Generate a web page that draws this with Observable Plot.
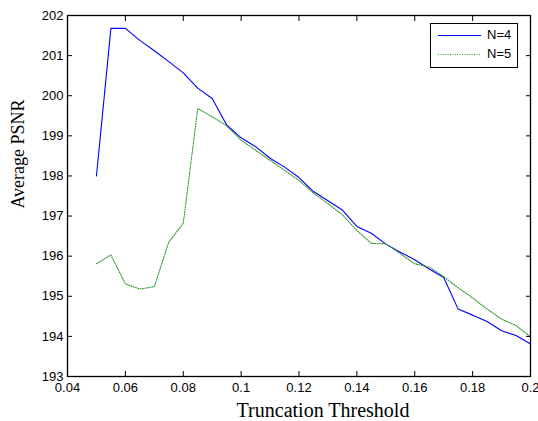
<!DOCTYPE html>
<html>
<head>
<meta charset="utf-8">
<script src="https://cdn.jsdelivr.net/npm/d3@7"></script>
<script src="https://cdn.jsdelivr.net/npm/@observablehq/plot@0.6"></script>
<style>
  body { margin: 0; background: #fff; }
  #wrap { position: relative; width: 538px; height: 421px; }
  #legend { position: absolute; left: 430px; top: 23px; width: 86px; height: 43px;
    border: 1.5px solid #000; background: #fff; font-family: "Liberation Sans", Arial, sans-serif; font-size: 13px; }
  .item { position: absolute; left: 0; height: 16px; width: 86px; }
  .item svg { position: absolute; left: 7px; top: 0; }
  .item span { position: absolute; left: 56px; top: 0; line-height: 16px; }
</style>
</head>
<body>
<div id="wrap"></div>
<script>
const thresholds = [0.05, 0.055, 0.06, 0.065, 0.07, 0.075, 0.08, 0.085, 0.09, 0.095, 0.1,
  0.105, 0.11, 0.115, 0.12, 0.125, 0.13, 0.135, 0.14, 0.145, 0.15, 0.155, 0.16, 0.165,
  0.17, 0.175, 0.18, 0.185, 0.19, 0.195, 0.2];
const psnrN4 = [198.0, 201.68, 201.68, 201.38, 201.12, 200.85, 200.57, 200.19, 199.93, 199.27,
  198.95, 198.73, 198.44, 198.22, 197.96, 197.61, 197.38, 197.15, 196.74, 196.57, 196.3,
  196.1, 195.91, 195.68, 195.47, 194.68, 194.53, 194.37, 194.14, 194.02, 193.81];
const psnrN5 = [195.81, 196.03, 195.31, 195.18, 195.24, 196.35, 196.82, 199.68, 199.48, 199.25,
  198.89, 198.64, 198.39, 198.14, 197.89, 197.57, 197.31, 197.03, 196.64, 196.32, 196.31,
  196.06, 195.81, 195.73, 195.49, 195.21, 194.96, 194.68, 194.43, 194.27, 193.99];
const seriesNames = ["N=4", "N=5"];
const xTicks = [0.04, 0.06, 0.08, 0.1, 0.12, 0.14, 0.16, 0.18, 0.2];
const xTickLabels = ["0.04", "0.06", "0.08", "0.1", "0.12", "0.14", "0.16", "0.18", "0.2"];
const yTicks = [193, 194, 195, 196, 197, 198, 199, 200, 201, 202];
const xTitle = "Truncation Threshold";
const yTitle = "Average PSNR";

const n4 = thresholds.map((t, i) => ({t, v: psnrN4[i]}));
const n5 = thresholds.map((t, i) => ({t, v: psnrN5[i]}));
const tickFont = "Liberation Sans, Arial, sans-serif";
const titleFont = "Liberation Serif, Times New Roman, serif";
const greenColor = "#2a952a";

const chart = Plot.plot({
  width: 538, height: 421,
  marginLeft: 67, marginRight: 8, marginTop: 15, marginBottom: 45,
  style: {background: "#fff", color: "#000"},
  x: {domain: [0.04, 0.2]},
  y: {domain: [193, 202]},
  marks: [
    Plot.line(n4, {x: "t", y: "v", stroke: "#0000ff", strokeWidth: 1.1}),
    Plot.line(n5, {x: "t", y: "v", stroke: greenColor, strokeWidth: 1.1, strokeDasharray: "1,1.4"}),
    Plot.axisX({ticks: xTicks, tickFormat: (d) => xTickLabels[xTicks.indexOf(d)], tickSize: -5, tickPadding: 11,
      fontSize: 13, fontFamily: tickFont, label: null}),
    Plot.axisX({anchor: "top", ticks: xTicks, tickFormat: () => "", tickSize: -5, label: null}),
    Plot.axisY({ticks: yTicks, tickSize: -5, tickPadding: 9, fontSize: 13, fontFamily: tickFont, label: null}),
    Plot.axisY({anchor: "right", ticks: yTicks, tickFormat: () => "", tickSize: -5, label: null}),
    Plot.frame({stroke: "#000", strokeWidth: 1.3}),
    Plot.text([xTitle], {frameAnchor: "bottom", text: d => d, dx: 24, dy: 40, lineAnchor: "bottom",
      textAnchor: "middle", fontSize: 20, fontFamily: titleFont}),
    Plot.text([yTitle], {frameAnchor: "left", text: d => d, rotate: -90, dx: -49, dy: -42,
      textAnchor: "middle", fontSize: 18, fontFamily: titleFont})
  ]
});
const wrap = document.getElementById("wrap");
wrap.appendChild(chart);

const legend = document.createElement("div");
legend.id = "legend";
const styles = [
  {stroke: "#0000ff", dash: null},
  {stroke: greenColor, dash: "1,1.4"}
];
seriesNames.forEach((name, i) => {
  const item = document.createElement("div");
  item.className = "item";
  item.style.top = (3 + i * 19) + "px";
  item.innerHTML = `<svg width="44" height="16"><line x1="0" x2="43" y1="8.5" y2="8.5" stroke="${styles[i].stroke}" stroke-width="1.1" ${styles[i].dash ? `stroke-dasharray="${styles[i].dash}"` : ""}/></svg><span>${name}</span>`;
  legend.appendChild(item);
});
wrap.appendChild(legend);
</script>
</body>
</html>
